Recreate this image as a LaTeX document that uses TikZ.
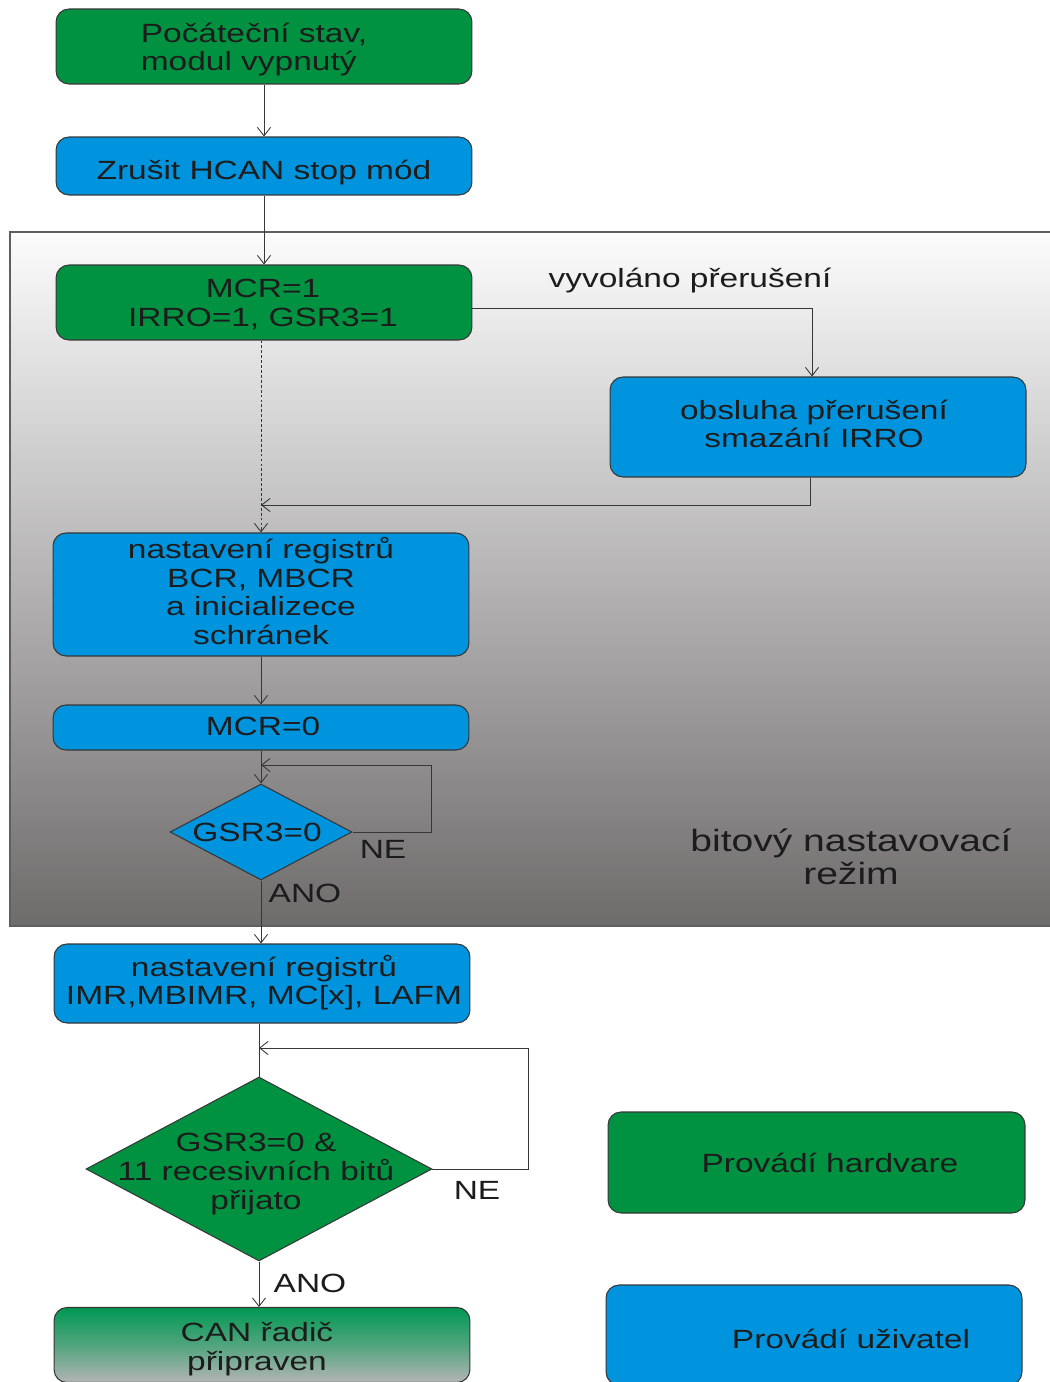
\documentclass[tikz,border=0pt]{standalone}
\usepackage{fontspec}
\setmainfont[FakeStretch=1.27]{Liberation Sans}
\usetikzlibrary{arrows.meta,shapes.geometric,calc}

\definecolor{hwgreen}{RGB}{0,146,64}
\definecolor{usrblue}{RGB}{0,148,222}
\definecolor{ink}{RGB}{28,28,28}
\definecolor{wire}{RGB}{55,55,55}
\definecolor{zonetop}{RGB}{252,252,252}
\definecolor{zonebot}{RGB}{110,107,107}
\definecolor{readytop}{RGB}{0,152,82}
\definecolor{readybot}{RGB}{180,180,180}

\begin{document}
\begin{tikzpicture}[x=0.02cm,y=-0.02cm,
  font=\fontsize{15}{16.3}\selectfont, text=ink,
  box/.style={draw=wire, line width=0.6pt, rounded corners=0.26cm,
    minimum width=8.32cm, inner sep=0pt},
  hw/.style={box, fill=hwgreen},
  usr/.style={box, fill=usrblue},
  txt/.style={align=center, inner sep=0pt},
  decision/.style={shape=diamond, draw=wire, line width=0.6pt, inner sep=0pt},
  flow/.style={draw=wire, line width=0.5pt, -{Straight Barb[length=4.8pt,width=7.5pt]}},
  plain/.style={draw=wire, line width=0.5pt}
]
\useasboundingbox (0,0) rectangle (1050,1382);

% bit-timing configuration zone
\shade[top color=zonetop, bottom color=zonebot, draw=wire!80, line width=0.6pt]
  (10,232) rectangle (1060,926);

% main column
\node[hw, minimum height=1.5cm] (b1) at (264,46.5) {};
\node[txt, align=left] (b1t) at (254,49.5) {Počáteční stav,\\modul vypnutý};
\node[usr, minimum height=1.16cm] (b2) at (264,166) {};
\node[txt] (b2t) at (264,172.5) {Zrušit HCAN stop mód};
\node[hw, minimum height=1.5cm] (b3) at (264,302.5) {};
\node[txt] (b3t) at (263,304.5) {MCR=1\\IRRO=1, GSR3=1};
\node[usr, minimum height=2cm] (b4) at (818,427) {};
\node[txt] (b4t) at (814,424) {obsluha přerušení\\smazání IRRO};
\node[usr, minimum height=2.46cm] (b5) at (261,594.5) {};
\node[txt] (b5t) at (261,591) {nastavení registrů\\BCR, MBCR\\a inicializece\\schránek};
\node[usr, minimum height=0.9cm] (b6) at (261,727.5) {};
\node[txt] (b6t) at (263,726.5) {MCR=0};
\node[decision, fill=usrblue, minimum width=3.64cm, minimum height=1.92cm] (d1) at (261,832) {};
\node[txt] (d1t) at (257,832) {GSR3=0};
\node[usr, minimum height=1.58cm] (b7) at (262,983.5) {};
\node[txt] (b7t) at (264,982.5) {nastavení registrů\\IMR,MBIMR, MC[x], LAFM};
\node[decision, fill=hwgreen, minimum width=6.92cm, minimum height=3.68cm] (d2) at (259,1169) {};
\node[txt] (d2t) at (256,1174) {GSR3=0 \&\\11 recesivních bitů\\přijato};
\node[box, top color=readytop, bottom color=readybot, middle color=readytop!55!readybot,
  minimum height=1.5cm] (b8) at (262,1345) {};
\node[txt] (b8t) at (257,1349) {CAN řadič\\připraven};

% legend
\node[hw, minimum width=8.34cm, minimum height=2.02cm] (b9) at (816.5,1162.5) {};
\node[txt] (b9t) at (830,1163) {Provádí hardvare};
\node[usr, minimum height=2cm] (b10) at (814,1335) {};
\node[txt] (b10t) at (851,1339) {Provádí uživatel};

% labels
\node (irq) at (690,281) {vyvoláno přerušení};
\node (ne1) at (383,849) {NE};
\node (ano1) at (305,893) {ANO};
\node[align=center, font=\fontsize{17.5}{18.7}\selectfont] (zone) at (851,857) {bitový nastavovací\\režim};
\node (ne2) at (477,1190) {NE};
\node (ano2) at (310,1283) {ANO};

% connectors
\coordinate (j1) at (261,505);
\coordinate (l1) at (261,765);
\coordinate (l2) at (259,1048);

\draw[flow] (b1.south) -- (b2.north);
\draw[flow] (b2.south) -- (b3.north);
\draw[flow] ($(b3.east)+(0,5.5)$) -| ($(b4.north)+(-6,0)$);
\draw[flow] ($(b4.south)+(-8,0)$) |- (j1);
\draw[flow, dash pattern=on 1.6pt off 1.2pt] (b3.south -| b5.north) -- (b5.north);
\draw[flow] (b5.south) -- (b6.north);
\draw[flow] (b6.south) -- (d1.north);
\draw[flow] (d1.east) -- ++(79,0) |- (l1);
\draw[flow] (d1.south) -- (d1.south |- b7.north);
\draw[plain] (b7.south -| d2.north) -- (d2.north);
\draw[flow] (d2.east) -- ++(96,0) |- (l2);
\draw[flow] (d2.south) -- (d2.south |- b8.north);
\end{tikzpicture}
\end{document}
